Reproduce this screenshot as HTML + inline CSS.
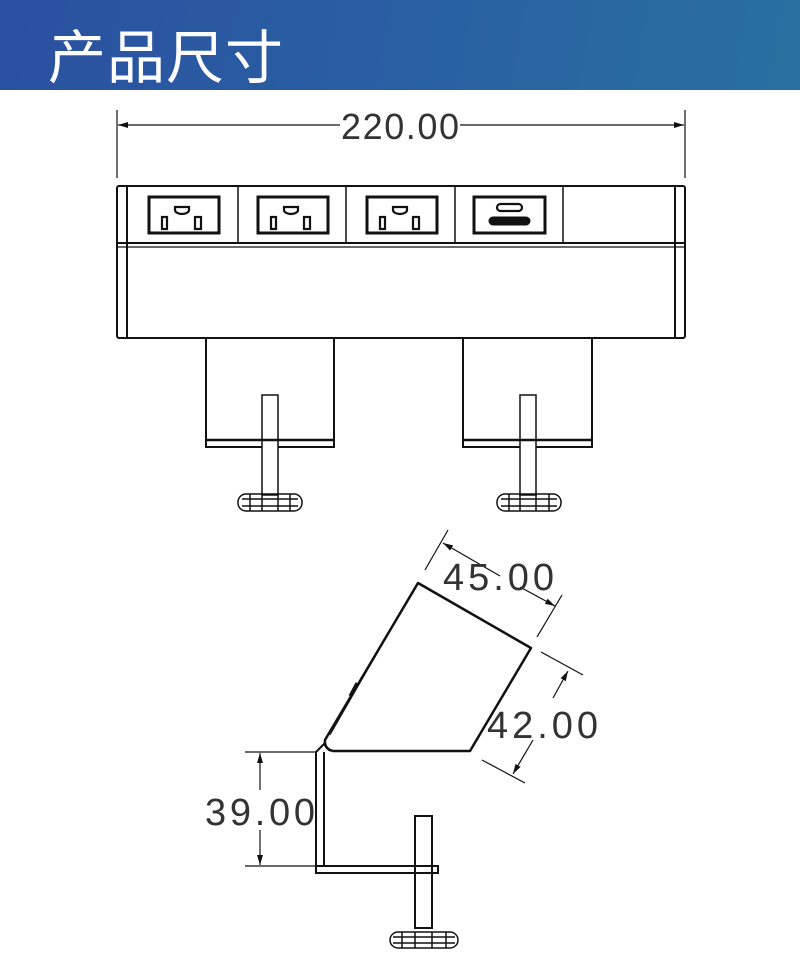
<!DOCTYPE html>
<html><head><meta charset="utf-8"><style>
body{margin:0;width:800px;height:973px;background:#fff;overflow:hidden;font-family:"Liberation Sans",sans-serif}
.hd{position:absolute;left:0;top:0;width:800px;height:90px;background:linear-gradient(100deg,#2a50a0 0%,#2960a2 50%,#2970a0 100%)}
.hd span{position:absolute;left:48px;top:11px;font-size:58px;color:#fff;font-family:"Liberation Sans","Noto Sans CJK SC",sans-serif;letter-spacing:1px}
svg{position:absolute;left:0;top:0}
</style></head><body>
<div class="hd"><span>产品尺寸</span></div>
<svg width="800" height="973" viewBox="0 0 800 973" fill="none" stroke="#111">
<defs><marker id="a" markerWidth="10" markerHeight="6" refX="10" refY="3" orient="auto" markerUnits="userSpaceOnUse"><path d="M0,0 L10,3 L0,6Z" fill="#111" stroke="none"/></marker></defs>
<g stroke-width="1.2">
<line x1="117" y1="110" x2="117" y2="178"/><line x1="685" y1="110" x2="685" y2="178"/>
<line x1="340" y1="125" x2="118" y2="125" marker-end="url(#a)"/>
<line x1="460" y1="125" x2="684" y2="125" marker-end="url(#a)"/>
</g>
<text x="400" y="139" font-size="36" text-anchor="middle" fill="#333" stroke="none" font-family="Liberation Sans" textLength="118">220.00</text>
<g stroke-width="2">
<rect x="117" y="186" width="568" height="152" rx="2"/>
<line x1="127" y1="186" x2="127" y2="338"/><line x1="675" y1="186" x2="675" y2="338"/>
<line x1="117" y1="243" x2="685" y2="243"/>
</g>
<line x1="117" y1="247" x2="685" y2="247" stroke-width="1.2"/>
<g stroke-width="1.5"><line x1="238" y1="186" x2="238" y2="243"/><line x1="346" y1="186" x2="346" y2="243"/><line x1="455" y1="186" x2="455" y2="243"/><line x1="563" y1="186" x2="563" y2="243"/></g>
<g stroke-width="3">
<rect x="149" y="197" width="70" height="36"/><rect x="258" y="197" width="70" height="36"/><rect x="367" y="197" width="70" height="36"/><rect x="474" y="197" width="71" height="36"/>
</g>
<g stroke-width="2.2">
<path d="M175,207 h14 v3 a7,4 0 0 1 -14,0z"/><rect x="162" y="217" width="5" height="12"/><rect x="195" y="217" width="6" height="12"/>
<path d="M284,207 h14 v3 a7,4 0 0 1 -14,0z"/><rect x="271" y="217" width="5" height="12"/><rect x="304" y="217" width="6" height="12"/>
<path d="M393,207 h14 v3 a7,4 0 0 1 -14,0z"/><rect x="380" y="217" width="5" height="12"/><rect x="413" y="217" width="6" height="12"/>
<rect x="497" y="204" width="25" height="7" rx="3.5"/>
</g>
<rect x="489" y="217" width="41" height="8" rx="4" fill="#111"/>
<g stroke-width="2">
<path d="M206,338 V447 H334 V338"/>
<path d="M463,338 V447 H592 V338"/>
</g>
<g stroke-width="1.5">
<rect x="262" y="395" width="16" height="100" fill="#fff"/><line x1="206" y1="440" x2="334" y2="440" stroke-width="2.5"/>
<rect x="520" y="395" width="16" height="100" fill="#fff"/><line x1="463" y1="440" x2="592" y2="440" stroke-width="2.5"/>
<rect x="238" y="494" width="64" height="17" rx="8"/><line x1="242" y1="499" x2="298" y2="499"/><line x1="242" y1="506" x2="298" y2="506"/>
<line x1="250" y1="494" x2="250" y2="511"/><line x1="262" y1="494" x2="262" y2="511"/><line x1="278" y1="494" x2="278" y2="511"/><line x1="290" y1="494" x2="290" y2="511"/>
<rect x="497" y="494" width="64" height="17" rx="8"/><line x1="501" y1="499" x2="557" y2="499"/><line x1="501" y1="506" x2="557" y2="506"/>
<line x1="509" y1="494" x2="509" y2="511"/><line x1="520" y1="494" x2="520" y2="511"/><line x1="536" y1="494" x2="536" y2="511"/><line x1="549" y1="494" x2="549" y2="511"/>
</g>
<g stroke-width="2.5" stroke-linejoin="round">
<path d="M418,583 L531,648 L470,751 L333,751 Q324,749 325,740 Z"/>
</g>
<path d="M414,589 L330,735" stroke-width="1"/>
<line x1="357" y1="683" x2="350" y2="696" stroke-width="3"/>
<g stroke-width="2">
<path d="M316,752 V873 H438 V866 H324 V752"/><path d="M316,752 L324,744 L330,751"/>
<rect x="415" y="816" width="17" height="112" fill="#fff"/>
<path d="M316,866 H438 V873 H316" fill="none"/>
</g>
<g stroke-width="1.5">
<rect x="390" y="932" width="68" height="16" rx="8"/><line x1="393" y1="937" x2="455" y2="937"/><line x1="393" y1="943" x2="455" y2="943"/>
<line x1="402" y1="932" x2="402" y2="948"/><line x1="415" y1="932" x2="415" y2="948"/><line x1="432" y1="932" x2="432" y2="948"/><line x1="446" y1="932" x2="446" y2="948"/>
</g>
<g stroke-width="1.2">
<line x1="448" y1="530" x2="425" y2="570"/><line x1="562" y1="595" x2="537" y2="637"/>
<line x1="500" y1="576" x2="443" y2="543" marker-end="url(#a)"/><line x1="520" y1="587" x2="555" y2="606" marker-end="url(#a)"/>
<line x1="541" y1="652" x2="583" y2="675"/><line x1="482" y1="760" x2="525" y2="783"/>
<line x1="553" y1="698" x2="568" y2="671" marker-end="url(#a)"/><line x1="533" y1="740" x2="513" y2="774" marker-end="url(#a)"/>
<line x1="245" y1="752" x2="316" y2="752"/><line x1="245" y1="866" x2="316" y2="866"/>
<line x1="260" y1="790" x2="260" y2="753" marker-end="url(#a)"/><line x1="260" y1="830" x2="260" y2="865" marker-end="url(#a)"/>
</g>
<g fill="#333" stroke="none" font-size="38" font-family="Liberation Sans">
<text x="443" y="590" textLength="111">45.00</text>
<text x="487" y="738" textLength="111">42.00</text>
<text x="205" y="825" textLength="110">39.00</text>
</g>
</svg>
</body></html>
